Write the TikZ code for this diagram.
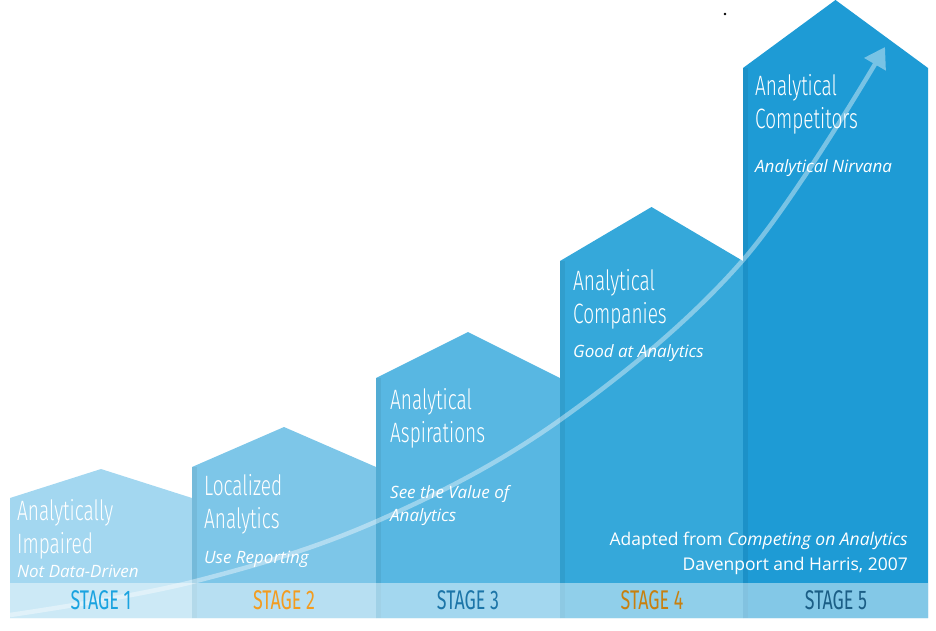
\documentclass[tikz,border=0pt]{standalone}
\usepackage{fontspec}
\setmainfont{Open Sans}
\newfontfamily\condfont[FakeStretch=0.68]{Fira Sans Light}
\newfontfamily\stagefont[FakeStretch=0.66]{Fira Sans}
\usetikzlibrary{arrows.meta}
\definecolor{barA}{HTML}{A3D7F0}
\definecolor{barB}{HTML}{7DC6E8}
\definecolor{barC}{HTML}{58B7E2}
\definecolor{barD}{HTML}{35A8DA}
\definecolor{barE}{HTML}{1E9BD5}
\definecolor{stageA}{HTML}{1AA3E0}
\definecolor{stageB}{HTML}{F39C1F}
\definecolor{stageC}{HTML}{1C75A8}
\definecolor{stageD}{HTML}{C8800F}
\definecolor{stageE}{HTML}{1B5E86}
\tikzset{
  title/.style={anchor=base west, inner sep=0, text=white, align=left,
    font=\condfont\fontsize{28}{33}\selectfont},
  motto/.style={anchor=base west, inner sep=0, text=white, align=left,
    font=\itshape\fontsize{17}{23}\selectfont},
  stage/.style={anchor=base, inner sep=0, font=\stagefont\fontsize{27}{30}\selectfont},
  credit/.style={anchor=base east, inner sep=0, text=white, align=right,
    font=\fontsize{17.5}{25}\selectfont}
}
\begin{document}
\begin{tikzpicture}[x=1pt, y=-1pt, >=latex]
\useasboundingbox (0,0) rectangle (936,630);
% the five stages
\foreach \l/\r/\s/\p/\c in {10/192/498/469/barA, 192/376/467/427/barB,
  376/560/378/332/barC, 560/743/261/207/barD, 743/928/68/0/barE}{
  \fill[\c] (\l,618)--(\l,\s)--({(\l+\r)/2},\p)--(\r,\s)--(\r,618)--cycle;
}
\foreach \l/\s in {192/467, 376/378, 560/261, 743/68}
  \fill[black, opacity=.06] (\l,\s) rectangle (\l+5,618);
\fill[white, opacity=.45] (10,583) rectangle (928,618);
% growth arrow
\begin{scope}[transparency group, opacity=.4]
\draw[white, line width=4.5pt, -{Triangle[length=20pt,width=24pt]}]
  plot[smooth, tension=.6] coordinates {(10,615) (192,582) (375,522) (560,420) (743,260) (885,47)};
\end{scope}
\fill (725,14) circle (1.3);

\node[title] (t1) at (17,553) {Analytically\\Impaired};
\node[motto] (m1) at (17,577) {Not Data-Driven};
\node[title] (t2) at (204,528) {Localized\\Analytics};
\node[motto] (m2) at (204,563) {Use Reporting};
\node[title] (t3) at (390,442) {Analytical\\Aspirations};
\node[motto] (m3) at (390,521) {See the Value of\\Analytics};
\node[title] (t4) at (573,323) {Analytical\\Companies};
\node[motto] (m4) at (573,357) {Good at Analytics};
\node[title] (t5) at (755,128) {Analytical\\Competitors};
\node[motto] (m5) at (755,172) {Analytical Nirvana};
\node[credit] (src) at (908,570) {Adapted from \textit{Competing on Analytics}\\Davenport and Harris, 2007};

\node[stage, text=stageA] (s1) at (101,609) {STAGE 1};
\node[stage, text=stageB] (s2) at (284,609) {STAGE 2};
\node[stage, text=stageC] (s3) at (468,609) {STAGE 3};
\node[stage, text=stageD] (s4) at (652,609) {STAGE 4};
\node[stage, text=stageE] (s5) at (836,609) {STAGE 5};
	\end{tikzpicture}
\end{document}
